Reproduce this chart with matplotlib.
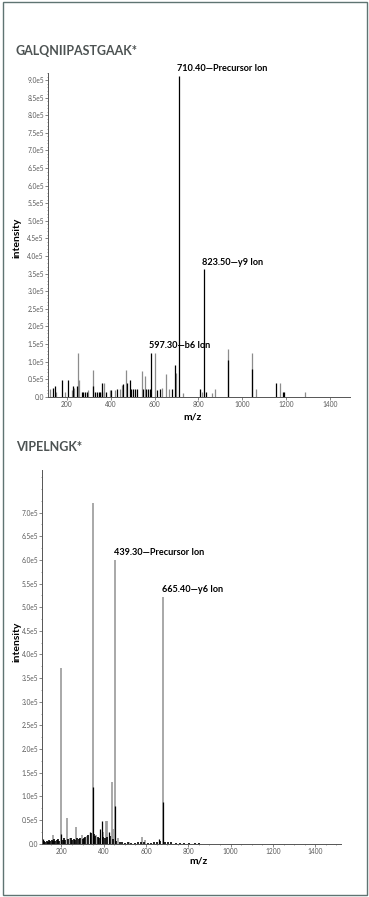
import numpy as np
import matplotlib
matplotlib.use("Agg")
import matplotlib.pyplot as plt
from matplotlib.patches import Rectangle
from matplotlib.ticker import MultipleLocator, FuncFormatter

plt.rcParams['font.family'] = ['Lato', 'DejaVu Sans']

# --- GALQNIIPASTGAAK* (intensity in units of 1e5)
grey_mz_top = [124, 152, 192, 223, 235, 253, 257, 298, 318, 371, 397, 419, 442, 450, 469,
               541, 556, 601, 636, 650, 665, 696, 729, 817, 861, 876, 934, 1044, 1063, 1172, 1285]
grey_int_top = [0.22, 0.14, 0.14, 0.19, 0.24, 1.25, 0.47, 0.19, 0.76, 0.38, 0.19, 0.19, 0.21, 0.33, 0.76,
                0.74, 0.6, 1.25, 0.24, 0.64, 0.21, 0.66, 0.1, 0.14, 0.1, 0.21, 1.35, 1.25, 0.21, 0.38, 0.14]
black_mz_top = [140, 147, 180, 208, 230, 245, 268, 276, 284, 291, 321, 329, 337, 345, 352, 359, 362,
                379, 404, 430, 457, 475, 488, 495, 503, 511, 518, 548, 563, 570, 578, 586, 609, 624,
                680, 692, 711, 805, 825, 836, 934, 1044, 1153, 1186, 1191]
black_int_top = [0.25, 0.29, 0.47, 0.47, 0.29, 0.29, 0.14, 0.14, 0.14, 0.14, 0.3, 0.12, 0.12, 0.12, 0.12,
                 0.12, 0.38, 0.14, 0.19, 0.21, 0.35, 0.38, 0.47, 0.22, 0.22, 0.22, 0.22, 0.22, 0.22, 0.22,
                 0.22, 1.25, 0.19, 0.22, 0.21, 0.9, 9.12, 0.21, 3.62, 0.12, 1.04, 0.78, 0.38, 0.12, 0.12]
labels_top = ["710.40\u2014Precursor Ion", "823.50\u2014y9 Ion", "597.30\u2014b6 Ion"]
label_mz_top = [711, 825, 586]
label_int_top = [9.12, 3.62, 1.25]

# --- VIPELNGK*
grey_mz_bot = [162, 199, 225, 240, 269, 296, 319, 348, 366, 398, 409, 417, 437, 445, 453, 469,
               521, 582, 595, 680]
grey_int_bot = [0.18, 3.72, 0.54, 0.11, 0.36, 0.18, 0.16, 7.2, 0.18, 0.25, 0.49, 0.49, 1.3, 0.32,
                6.0, 0.11, 0.04, 0.14, 0.07, 5.21]
black_mz_bot = [112, 199, 335, 348, 382, 390, 425, 453, 661, 680]
black_int_bot = [0.1, 0.2, 0.25, 1.19, 0.32, 0.49, 0.25, 0.8, 0.09, 0.89]
noise_mz = [118, 124, 130, 136, 142, 148, 154, 160, 166, 172, 178, 184, 190, 206, 212, 218, 232,
            246, 252, 258, 264, 276, 282, 288, 302, 308, 314, 326, 340, 354, 360, 372, 378, 396,
            404, 414, 430, 442, 460, 476, 488, 500, 515, 530, 548, 560, 575, 590, 610, 625, 640,
            652, 668, 692, 705, 720, 740, 760, 780, 805, 830, 850]
noise_int = [0.05, 0.03, 0.06, 0.04, 0.07, 0.05, 0.08, 0.06, 0.09, 0.05, 0.07, 0.1, 0.06, 0.08,
             0.11, 0.07, 0.09, 0.12, 0.08, 0.1, 0.07, 0.11, 0.09, 0.13, 0.1, 0.12, 0.15, 0.18, 0.22,
             0.2, 0.16, 0.14, 0.12, 0.15, 0.12, 0.14, 0.16, 0.1, 0.06, 0.04, 0.03, 0.02, 0.03, 0.02,
             0.02, 0.03, 0.04, 0.03, 0.02, 0.02, 0.03, 0.04, 0.05, 0.03, 0.04, 0.03, 0.02, 0.02,
             0.02, 0.02, 0.01, 0.01]
labels_bot = ["439.30\u2014Precursor Ion", "665.40\u2014y6 Ion"]
label_mz_bot = [453, 680]
label_int_bot = [6.0, 5.21]

W, H = 369, 897
fig = plt.figure(figsize=(W / 100, H / 100), dpi=100)
fig.patch.set_facecolor("white")
fig.patches.append(Rectangle((2.5 / W, 2.5 / H), 364 / W, 892 / H, transform=fig.transFigure,
                             fill=False, edgecolor="#5f7472", lw=1.0))


def fmt(v, pos):
    if abs(v) < 1e-9:
        return "0.0"
    return "%.1fe5" % (v / 1e5)


def style_axes(ax, ymax_label, yminor):
    for s in ["top", "right"]:
        ax.spines[s].set_visible(False)
    ax.spines["left"].set_color("#555555")
    ax.spines["bottom"].set_color("#555555")
    ax.spines["left"].set_linewidth(0.7)
    ax.spines["bottom"].set_linewidth(0.7)
    ax.set_yticks(np.arange(0, ymax_label + 1, 0.5e5))
    ax.yaxis.set_minor_locator(MultipleLocator(yminor))
    ax.yaxis.set_major_formatter(FuncFormatter(fmt))
    ax.set_xticks([200, 400, 600, 800, 1000, 1200, 1400])
    ax.tick_params(axis="both", which="major", labelsize=4.8, colors="#555555",
                   labelcolor="#5a5a5a", length=2, width=0.5, pad=1)
    ax.tick_params(axis="both", which="minor", length=1, width=0.4, colors="#555555")
    ax.set_ylabel("intensity", fontsize=7.5, fontweight="bold")
    ax.set_xlabel("m/z", fontsize=7.5, fontweight="bold")


# top panel
ax1 = fig.add_axes([48 / W, 1 - 396.7 / H, 302 / W, 323.7 / H])
ax1.vlines(grey_mz_top, 0, np.array(grey_int_top) * 1e5, colors="#8c8c8c", lw=0.9)
ax1.vlines(black_mz_top, 0, np.array(black_int_top) * 1e5, colors="black", lw=0.9)
ax1.set_xlim(115, 1490)
ax1.set_ylim(0, 9.2e5)
style_axes(ax1, 9.0e5, 0.1e5)
ax1.yaxis.set_label_coords(-0.089, 0.49)
ax1.xaxis.set_label_coords(0.477, -0.05)
for t, m, v in zip(labels_top, label_mz_top, label_int_top):
    ax1.annotate(t, (m, v * 1e5), xytext=(-1.5, 2), textcoords="offset points",
                 fontsize=6.6, fontweight="bold", ha="left", va="bottom")

# bottom panel
ax2 = fig.add_axes([42.3 / W, 1 - 843.7 / H, 298.4 / W, 373.7 / H])
ax2.vlines(grey_mz_bot, 0, np.array(grey_int_bot) * 1e5, colors="#9a9a9a", lw=1.2)
ax2.vlines(noise_mz, 0, np.array(noise_int) * 1e5, colors="black", lw=1.2)
ax2.vlines(black_mz_bot, 0, np.array(black_int_bot) * 1e5, colors="black", lw=0.9)
ax2.set_xlim(110, 1520)
ax2.set_ylim(0, 7.9e5)
style_axes(ax2, 7.0e5, 0.25e5)
ax2.xaxis.set_minor_locator(MultipleLocator(50))
ax2.yaxis.set_label_coords(-0.071, 0.54)
ax2.xaxis.set_label_coords(0.525, -0.035)
for t, m, v in zip(labels_bot, label_mz_bot, label_int_bot):
    ax2.annotate(t, (m, v * 1e5), xytext=(-1, 2), textcoords="offset points",
                 fontsize=6.6, fontweight="bold", ha="left", va="bottom")

fig.text(16 / W, 1 - 50.7 / H, "GALQNIIPASTGAAK*", fontsize=9, fontweight="bold",
         color="#4d5353", ha="left", va="center")
fig.text(16 / W, 1 - 447.3 / H, "VIPELNGK*", fontsize=9, fontweight="bold",
         color="#4d5353", ha="left", va="center")

fig.savefig("out.png", dpi=100)
